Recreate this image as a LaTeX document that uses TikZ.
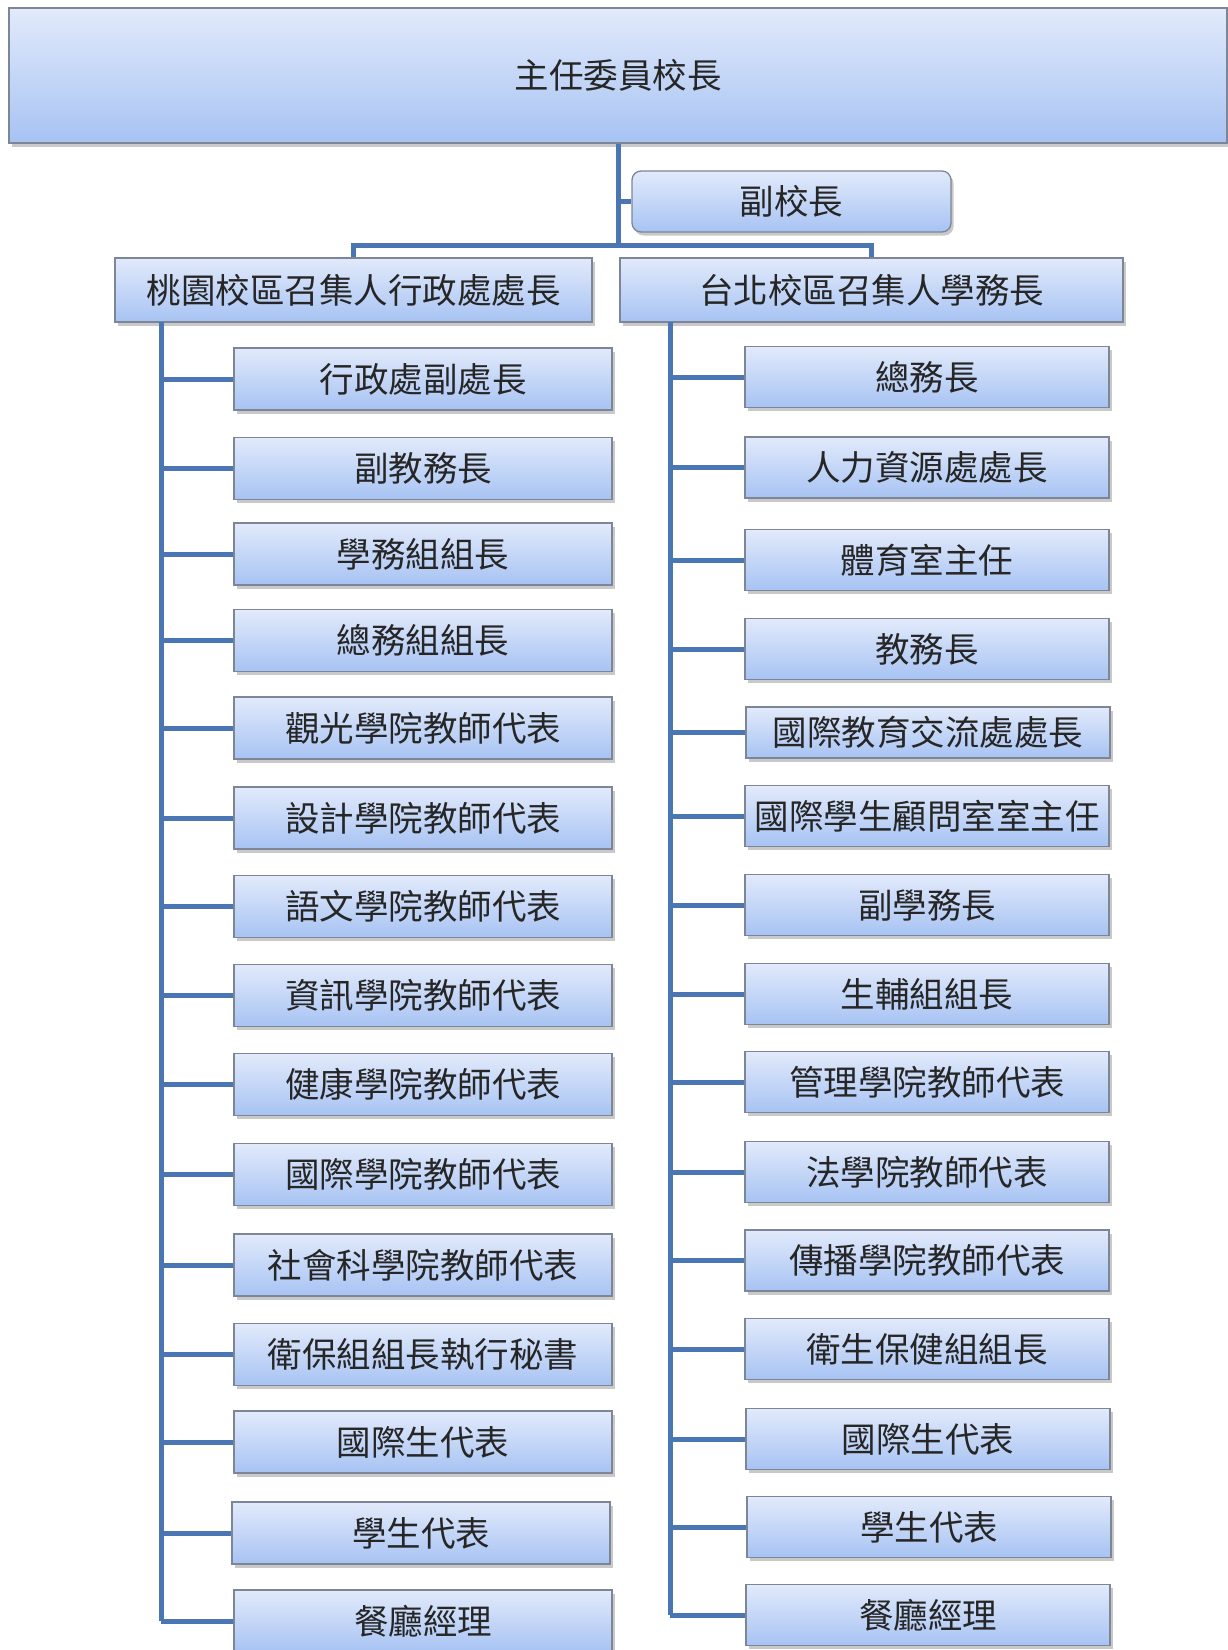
\documentclass[tikz,border=0pt]{standalone}
\usepackage{fontspec}
\newfontfamily\cjk{Noto Sans CJK TC}
\usetikzlibrary{shadows}
\definecolor{boxtop}{HTML}{E2EAFB}
\definecolor{boxbot}{HTML}{A7C3F3}
\definecolor{boxline}{HTML}{7D8696}
\definecolor{linec}{HTML}{4A77B4}
\definecolor{textc}{HTML}{262626}
\tikzset{
  orgbox/.style={draw=boxline, line width=1.3pt, top color=boxtop, bottom color=boxbot,
    drop shadow={shadow xshift=2.5pt, shadow yshift=-3.5pt, fill=black!60, opacity=0.35},
    text=textc, inner sep=0pt, anchor=center,
    font=\cjk\fontsize{34.5}{37}\selectfont},
  leftbox/.style={orgbox, minimum width=378pt, minimum height=62pt},
  rightbox/.style={orgbox, minimum width=364pt, minimum height=61pt},
  conn/.style={draw=linec, line width=5pt}
}
\begin{document}
\begin{tikzpicture}[x=1pt,y=-1pt]
\useasboundingbox (0,0) rectangle (1227,1650);
\fill[white] (0,0) rectangle (1227,1650);
% top
\node[orgbox, minimum width=1218pt, minimum height=135pt] (top) at (618,75.5) {主任委員校長};
\node[orgbox, rounded corners=9pt, minimum width=319pt, minimum height=61pt] (vp) at (791.5,201.5) {副校長};
\node[orgbox, minimum width=477pt, minimum height=64pt] (lc) at (353.5,290) {桃園校區召集人行政處處長};
\node[orgbox, minimum width=503pt, minimum height=64pt] (rc) at (871.5,290) {台北校區召集人學務長};
\coordinate (jn) at (618,245);
\coordinate (ls) at (161,322);
\coordinate (rs) at (670,322);
% left column
\node[leftbox] (L1) at (423,379) {行政處副處長};
\node[leftbox] (L2) at (423,468.5) {副教務長};
\node[leftbox] (L3) at (423,554) {學務組組長};
\node[leftbox] (L4) at (423,640.5) {總務組組長};
\node[leftbox] (L5) at (423,728) {觀光學院教師代表};
\node[leftbox] (L6) at (423,818) {設計學院教師代表};
\node[leftbox] (L7) at (423,906.5) {語文學院教師代表};
\node[leftbox] (L8) at (423,995.5) {資訊學院教師代表};
\node[leftbox] (L9) at (423,1084.5) {健康學院教師代表};
\node[leftbox] (L10) at (423,1174.5) {國際學院教師代表};
\node[leftbox] (L11) at (423,1265) {社會科學院教師代表};
\node[leftbox] (L12) at (423,1354.5) {衛保組組長執行秘書};
\node[leftbox] (L13) at (423,1442) {國際生代表};
\node[leftbox] (L14) at (421,1533) {學生代表};
\node[leftbox] (L15) at (423,1621) {餐廳經理};
% right column
\node[rightbox] (R1) at (927,377) {總務長};
\node[rightbox] (R2) at (927,467.5) {人力資源處處長};
\node[rightbox] (R3) at (927,560) {體育室主任};
\node[rightbox] (R4) at (927,649) {教務長};
\node[rightbox, minimum height=51pt] (R5) at (928,732.5) {國際教育交流處處長};
\node[rightbox] (R6) at (927,816) {國際學生顧問室室主任};
\node[rightbox] (R7) at (927,905) {副學務長};
\node[rightbox] (R8) at (927,994) {生輔組組長};
\node[rightbox] (R9) at (927,1082) {管理學院教師代表};
\node[rightbox] (R10) at (927,1172) {法學院教師代表};
\node[rightbox] (R11) at (927,1260.5) {傳播學院教師代表};
\node[rightbox] (R12) at (927,1349) {衛生保健組組長};
\node[rightbox] (R13) at (928,1439) {國際生代表};
\node[rightbox] (R14) at (929,1527) {學生代表};
\node[rightbox] (R15) at (928,1615) {餐廳經理};
% connectors
\draw[conn] (top.south) -- (jn);
\draw[conn] (vp.west) -- (vp.west -| jn);
\draw[conn] (jn) -| (lc.north);
\draw[conn] (jn) -| (rc.north);
\draw[conn] (ls) -- (ls |- L15.west);
\draw[conn] (rs) -- (rs |- R15.west);
\foreach \i in {1,...,15} {
  \draw[conn] (L\i.west) -- (L\i.west -| ls);
  \draw[conn] (R\i.west) -- (R\i.west -| rs);
}
\end{tikzpicture}
\end{document}
